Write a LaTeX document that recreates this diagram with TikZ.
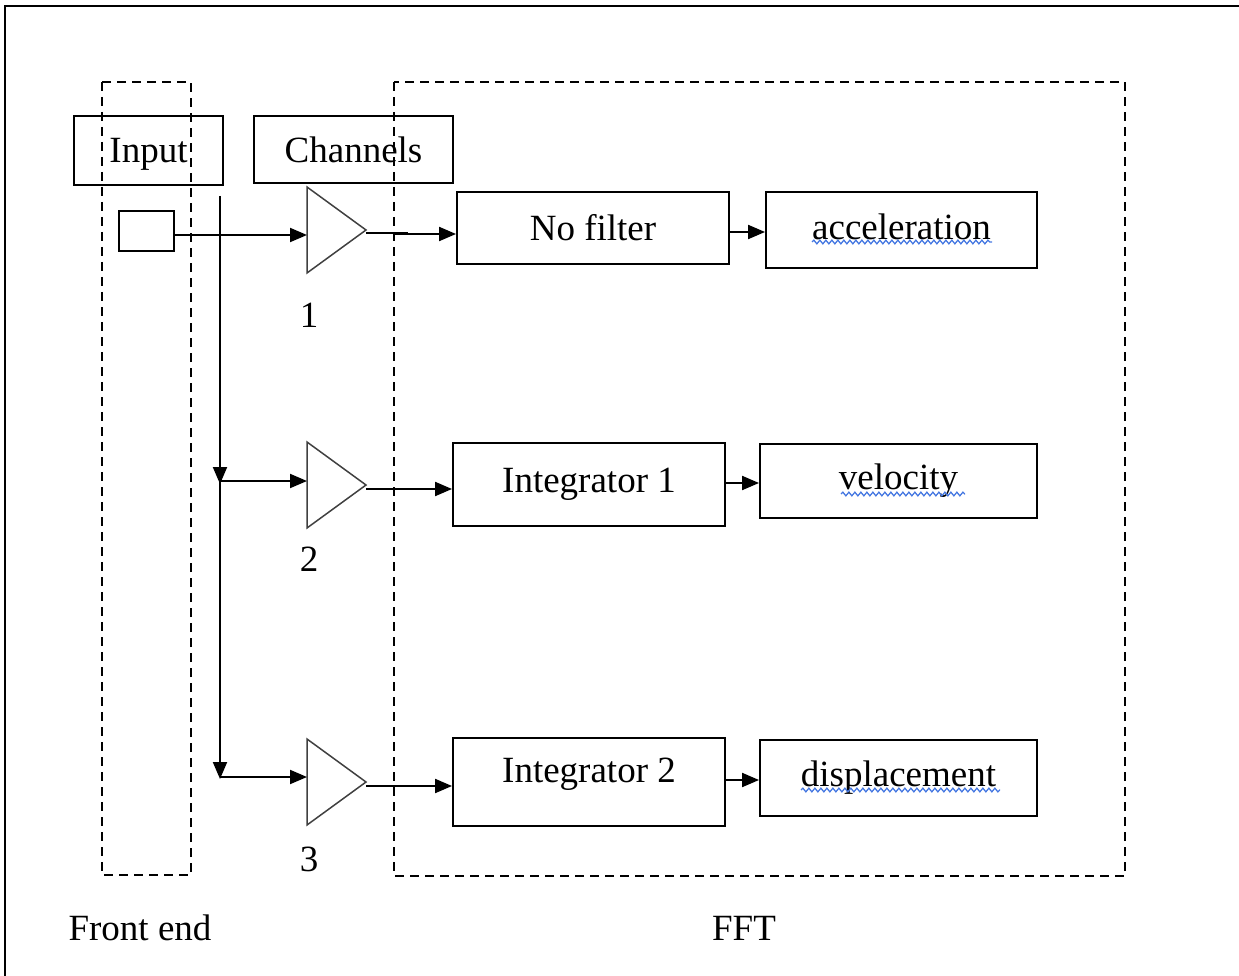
\documentclass[tikz,border=0pt]{standalone}
\usepackage{fontspec}
\setmainfont{Liberation Serif}
\usetikzlibrary{arrows.meta,decorations.pathmorphing}

\tikzset{
  lbl/.style={font=\fontsize{37}{40}\selectfont, inner sep=0pt},
  box/.style={draw, line width=1.9pt, rectangle, inner sep=4pt,
              font=\fontsize{37}{40}\selectfont},
  region/.style={draw, line width=2pt, dash pattern=on 9pt off 6pt},
  amp/.style={draw=black!75, line width=1.5pt, line join=miter},
  wire/.style={line width=2pt, -{Triangle[length=17pt,width=14pt]}},
  plain/.style={line width=2pt},
  squiggle/.style={draw={rgb,255:red,70;green,120;blue,225}, line width=1.3pt,
                   decorate, decoration={snake, segment length=6pt, amplitude=1.8pt}}
}

\begin{document}
\begin{tikzpicture}[x=1pt,y=-1pt]
\useasboundingbox (0,0) rectangle (1239,976);

% page frame
\draw[line width=2.4pt] (5,976) -- (5,6) -- (1239,6);

% dashed regions
\draw[region] (102,82) rectangle (191,875);
\draw[region] (394,82) rectangle (1125,876);

% headings
\node[box, minimum width=149pt, minimum height=69pt, text depth=0pt] (inp) at (148.5,150.5) {Input};
\node[box, minimum width=199pt, minimum height=67pt] (chn) at (353.5,149.5) {Channels};

% input terminal
\node[draw, line width=1.9pt, minimum width=55pt, minimum height=40pt, inner sep=0pt] (src) at (146.5,231) {};

% amplifiers
\foreach \i/\yc in {1/230, 2/485, 3/782} {
  \coordinate (a\i w) at (307,\yc);
  \coordinate (a\i o) at (366,\yc);
  \draw[amp] (307,\yc-43) -- (366,\yc) -- (307,\yc+43) -- cycle;
}
\node[lbl] (n1) at (309,315) {1};
\node[lbl] (n2) at (309,559) {2};
\node[lbl] (n3) at (309,859) {3};

% processing blocks
\node[box, minimum width=272pt, minimum height=72pt] (nf) at (593,228) {No filter};
\node[box, minimum width=271pt, minimum height=76pt, text depth=6pt] (acc) at (901.5,230) {acceleration};
\node[box, minimum width=272pt, minimum height=83pt] (i1) at (589,484.5) {Integrator 1};
\node[box, minimum width=277pt, minimum height=74pt] (vel) at (898.5,481) {velocity};
\node[box, minimum width=272pt, minimum height=88pt, text depth=24pt] (i2) at (589,782) {Integrator 2};
\node[box, minimum width=277pt, minimum height=76pt] (dis) at (898.5,778) {displacement};

% splitter line
\coordinate (top) at (220,196);
\coordinate (j2) at (220,481);
\coordinate (j3) at (220,777);
\draw[wire] (top) -- ([yshift=-3pt]j2);
\draw[wire] (j2) -- ([yshift=-2pt]j3);

% signal paths into the amplifiers
\draw[wire] (src.east |- 0,235) -- (a1w |- 0,235);
\draw[wire] (j2) -- (a2w |- j2);
\draw[wire] (j3) -- (a3w |- j3);

% amplifier outputs
\draw[plain] (a1o |- 0,233) -- (408,233);
\draw[wire] (393,234) -- (nf.west |- 0,234);
\draw[wire] (a2o |- 0,489) -- (i1.west |- 0,489);
\draw[wire] (a3o |- 0,786) -- (i2.west |- 0,786);

% block to result
\draw[wire] (nf.east |- 0,232) -- (acc.west |- 0,232);
\draw[wire] (i1.east |- 0,483) -- (vel.west |- 0,483);
\draw[wire] (i2.east |- 0,780) -- (dis.west |- 0,780);

% spelling marks under the result words
\draw[squiggle] (812,242) -- (992,242);
\draw[squiggle] (841,494) -- (965,494);
\draw[squiggle] (801,790) -- (1000,790);

% region captions
\node[lbl] (fe) at (140,928) {Front end};
\node[lbl] (fft) at (744,928) {FFT};
\end{tikzpicture}
\end{document}
